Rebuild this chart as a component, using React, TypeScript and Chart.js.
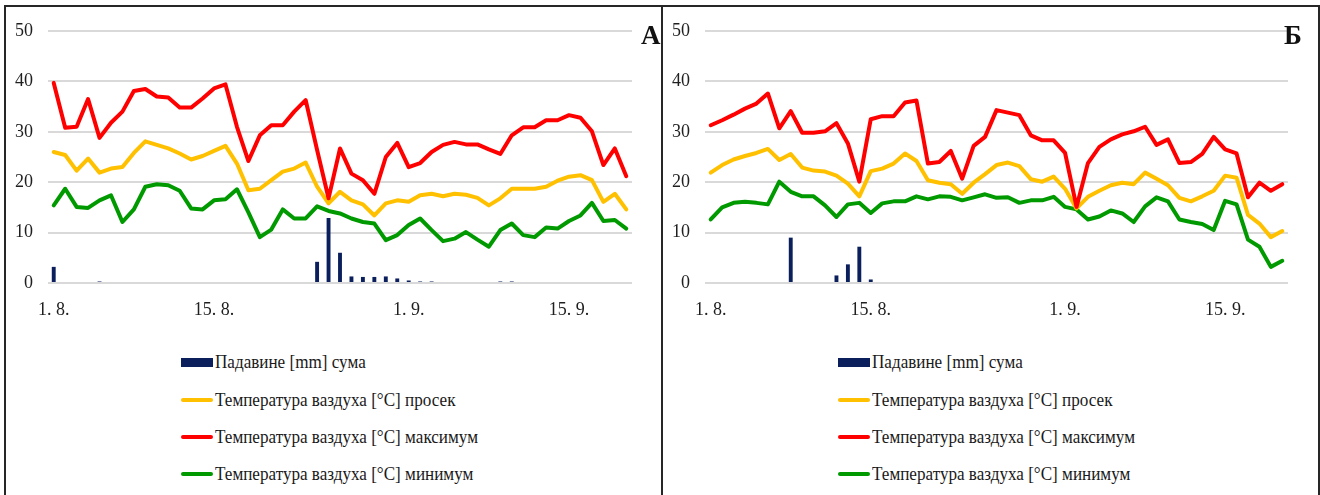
import React, { useEffect, useRef } from "react";
import { Chart, registerables } from "chart.js";

Chart.register(...registerables);

const FONT = "'Liberation Serif', 'Times New Roman', serif";

const DAYS = [
  "1. 8.", "2. 8.", "3. 8.", "4. 8.", "5. 8.", "6. 8.", "7. 8.", "8. 8.", "9. 8.", "10. 8.",
  "11. 8.", "12. 8.", "13. 8.", "14. 8.", "15. 8.", "16. 8.", "17. 8.", "18. 8.", "19. 8.", "20. 8.",
  "21. 8.", "22. 8.", "23. 8.", "24. 8.", "25. 8.", "26. 8.", "27. 8.", "28. 8.", "29. 8.", "30. 8.",
  "31. 8.", "1. 9.", "2. 9.", "3. 9.", "4. 9.", "5. 9.", "6. 9.", "7. 9.", "8. 9.", "9. 9.",
  "10. 9.", "11. 9.", "12. 9.", "13. 9.", "14. 9.", "15. 9.", "16. 9.", "17. 9.", "18. 9.", "19. 9.",
  "20. 9.",
];

const TICK_LABELS = ["1. 8.", "15. 8.", "1. 9.", "15. 9."];

const SERIES_NAMES = [
  "Падавине [mm] сума",
  "Температура ваздуха [°C] просек",
  "Температура ваздуха [°C] максимум",
  "Температура ваздуха [°C] минимум",
];

// Panel А
const A_PRECIP = [
  3.2, 0, 0, 0, 0.3, 0, 0, 0, 0, 0,
  0, 0, 0, 0, 0, 0, 0, 0, 0, 0,
  0, 0, 0, 4.2, 12.9, 6.0, 1.3, 1.2, 1.2, 1.3,
  0.9, 0.5, 0.3, 0.3, 0, 0, 0, 0, 0, 0.3,
  0.3, 0, 0, 0, 0, 0, 0, 0, 0, 0,
  0,
];
const A_MEAN = [
  26.0, 25.4, 22.3, 24.7, 21.9, 22.7, 23.0, 25.8, 28.1, 27.4,
  26.7, 25.7, 24.5, 25.2, 26.2, 27.2, 23.7, 18.4, 18.7, 20.4,
  22.1, 22.7, 23.9, 19.1, 15.8, 18.1, 16.4, 15.6, 13.4, 15.8,
  16.4, 16.1, 17.4, 17.7, 17.2, 17.7, 17.5, 16.9, 15.4, 16.8,
  18.7, 18.7, 18.7, 19.1, 20.3, 21.1, 21.4, 20.4, 16.1, 17.7,
  14.6,
];
const A_MAX = [
  39.7, 30.8, 31.0, 36.5, 28.8, 31.8, 34.0, 38.1, 38.5, 37.0,
  36.8, 34.8, 34.8, 36.6, 38.6, 39.4, 31.0, 24.2, 29.3, 31.3,
  31.3, 34.0, 36.3, 26.4, 16.8, 26.7, 21.7, 20.4, 17.7, 25.0,
  27.8, 23.0, 23.8, 26.0, 27.4, 28.0, 27.5, 27.5, 26.5, 25.6,
  29.3, 30.9, 30.9, 32.3, 32.3, 33.3, 32.8, 30.1, 23.4, 26.7,
  21.2,
];
const A_MIN = [
  15.4, 18.7, 15.1, 14.9, 16.4, 17.4, 12.1, 14.6, 19.1, 19.6,
  19.4, 18.3, 14.8, 14.6, 16.4, 16.6, 18.6, 14.0, 9.1, 10.6,
  14.6, 12.8, 12.8, 15.2, 14.3, 13.8, 12.8, 12.1, 11.8, 8.5,
  9.5, 11.5, 12.8, 10.5, 8.3, 8.8, 10.1, 8.6, 7.2, 10.5,
  11.8, 9.5, 9.1, 11.0, 10.8, 12.3, 13.4, 15.9, 12.3, 12.5,
  10.8,
];

// Panel Б
const B_PRECIP = [
  0, 0, 0, 0, 0, 0, 0, 9.0, 0, 0,
  0, 1.5, 3.7, 7.2, 0.7, 0, 0, 0, 0, 0,
  0, 0, 0, 0, 0, 0, 0, 0, 0, 0,
  0, 0, 0, 0, 0, 0, 0, 0, 0, 0,
  0, 0, 0, 0, 0, 0, 0, 0, 0, 0,
  0,
];
const B_MEAN = [
  21.9, 23.4, 24.5, 25.2, 25.8, 26.6, 24.4, 25.6, 22.9, 22.3,
  22.1, 21.3, 19.7, 17.2, 22.2, 22.7, 23.7, 25.7, 24.2, 20.4,
  19.9, 19.6, 17.7, 19.9, 21.6, 23.4, 23.9, 23.2, 20.6, 20.1,
  21.1, 18.7, 14.8, 17.1, 18.3, 19.4, 19.9, 19.6, 21.9, 20.7,
  19.4, 16.9, 16.2, 17.2, 18.3, 21.3, 20.9, 13.5, 11.8, 9.1,
  10.3,
];
const B_MAX = [
  31.3, 32.3, 33.4, 34.6, 35.6, 37.6, 30.7, 34.1, 29.8, 29.8,
  30.1, 31.7, 27.7, 20.1, 32.5, 33.1, 33.1, 35.8, 36.2, 23.7,
  24.0, 26.2, 20.7, 27.2, 29.0, 34.3, 33.8, 33.3, 29.3, 28.3,
  28.3, 25.8, 15.1, 23.8, 27.0, 28.5, 29.5, 30.1, 31.0, 27.4,
  28.5, 23.8, 24.0, 25.6, 29.0, 26.5, 25.7, 17.0, 19.9, 18.3,
  19.6,
];
const B_MIN = [
  12.6, 15.0, 15.9, 16.1, 15.9, 15.6, 20.1, 18.1, 17.2, 17.2,
  15.4, 13.1, 15.6, 15.9, 13.9, 15.8, 16.2, 16.2, 17.2, 16.6,
  17.2, 17.1, 16.4, 17.0, 17.6, 16.9, 17.0, 15.9, 16.4, 16.4,
  17.1, 15.1, 14.6, 12.6, 13.2, 14.4, 13.8, 12.1, 15.2, 17.0,
  16.2, 12.6, 12.1, 11.7, 10.5, 16.3, 15.6, 8.6, 7.2, 3.2,
  4.4,
];

const NAVY = "#0a1f5c";
const YELLOW = "#FFC000";
const RED = "#FF0000";
const GREEN = "#009a00";
const COLORS = [NAVY, YELLOW, RED, GREEN];

type ChartProps = {
  left: number;
  padRight: number;
  precip: number[];
  mean: number[];
  max: number[];
  min: number[];
};

const CANVAS_W = 660;
const CANVAS_H = 330;

function ClimateChart({ left, padRight, precip, mean, max, min }: ChartProps) {
  const ref = useRef<HTMLCanvasElement | null>(null);
  useEffect(() => {
    if (!ref.current) return;
    const lineCommon = {
      type: "line" as const,
      borderWidth: 4,
      pointRadius: 0,
      tension: 0,
      borderJoinStyle: "round" as const,
      borderCapStyle: "round" as const,
      fill: false,
    };
    const chart = new Chart(ref.current, {
      type: "bar",
      data: {
        labels: DAYS,
        datasets: [
          { ...lineCommon, label: SERIES_NAMES[2], data: max, borderColor: RED, backgroundColor: RED, order: 1 },
          { ...lineCommon, label: SERIES_NAMES[1], data: mean, borderColor: YELLOW, backgroundColor: YELLOW, order: 2 },
          { ...lineCommon, label: SERIES_NAMES[3], data: min, borderColor: GREEN, backgroundColor: GREEN, order: 3 },
          {
            type: "bar",
            label: SERIES_NAMES[0],
            data: precip,
            backgroundColor: NAVY,
            borderWidth: 0,
            barPercentage: 0.34,
            categoryPercentage: 1,
            order: 4,
          },
        ],
      } as any,
      options: {
        animation: false,
        responsive: false,
        maintainAspectRatio: false,
        events: [],
        layout: { padding: { left: 0, right: padRight, top: 31, bottom: 7 } },
        plugins: { legend: { display: false }, tooltip: { enabled: false } },
        scales: {
          x: {
            offset: true,
            grid: { display: false, drawTicks: false },
            border: { display: false },
            ticks: {
              autoSkip: false,
              maxRotation: 0,
              minRotation: 0,
              padding: 16,
              color: "#1f1f1f",
              font: { family: FONT, size: 18 },
              callback: (_v: any, i: number) => (TICK_LABELS.includes(DAYS[i]) ? DAYS[i] : ""),
            },
            afterFit: (s: any) => {
              s.height = 40;
            },
          },
          y: {
            min: 0,
            max: 50,
            grid: { color: "#d9d9d9", lineWidth: 2, drawTicks: false },
            border: { display: false },
            ticks: {
              stepSize: 10,
              padding: 15,
              color: "#1f1f1f",
              font: { family: FONT, size: 18 },
            },
            afterFit: (s: any) => {
              s.width = 48;
            },
          },
        },
      } as any,
    });
    return () => chart.destroy();
  }, [precip, mean, max, min, padRight]);
  return (
    <canvas
      ref={ref}
      width={CANVAS_W}
      height={CANVAS_H}
      style={{ position: "absolute", left, top: 0, width: CANVAS_W, height: CANVAS_H }}
    />
  );
}

function Legend({ left }: { left: number }) {
  const rows = [362, 399.5, 437, 474];
  return (
    <>
      {SERIES_NAMES.map((name, i) => (
        <div
          key={name}
          style={{
            position: "absolute",
            left,
            top: rows[i] - 12,
            height: 24,
            display: "flex",
            alignItems: "center",
            whiteSpace: "nowrap",
          }}
        >
          <div
            style={{
              width: 32,
              height: i === 0 ? 9 : 4,
              background: COLORS[i],
              borderRadius: i === 0 ? 0 : 2,
              marginRight: 2,
              flex: "none",
            }}
          />
          <span
            style={{
              display: "inline-block",
              fontFamily: FONT,
              fontSize: 19,
              lineHeight: "24px",
              color: "#1a1a1a",
              transform: "scaleX(0.9)",
              transformOrigin: "left center",
            }}
          >
            {name}
          </span>
        </div>
      ))}
    </>
  );
}

function PanelFrame({ left, width }: { left: number; width: number }) {
  return (
    <div
      style={{
        position: "absolute",
        left,
        top: 5,
        width,
        height: 520,
        boxSizing: "border-box",
        borderLeft: "2px solid #262626",
        borderTop: "2px solid #262626",
        borderRight: "2px solid #262626",
      }}
    />
  );
}

export default function App() {
  useEffect(() => {
    document.body.style.margin = "0";
  }, []);
  const letter = {
    position: "absolute" as const,
    top: 22,
    fontFamily: FONT,
    fontWeight: "bold" as const,
    fontSize: 27,
    lineHeight: "27px",
    color: "#111",
  };
  return (
    <div
      style={{
        position: "absolute",
        left: 0,
        top: 0,
        width: 1320,
        height: 495,
        overflow: "hidden",
        background: "#fff",
      }}
    >
      <PanelFrame left={4} width={659} />
      <PanelFrame left={661} width={659} />
      <ClimateChart left={0} padRight={28} precip={A_PRECIP} mean={A_MEAN} max={A_MAX} min={A_MIN} />
      <ClimateChart left={657} padRight={29} precip={B_PRECIP} mean={B_MEAN} max={B_MAX} min={B_MIN} />
      <Legend left={181} />
      <Legend left={838} />
      <div style={{ ...letter, left: 641 }}>А</div>
      <div style={{ ...letter, left: 1284 }}>Б</div>
    </div>
  );
}
